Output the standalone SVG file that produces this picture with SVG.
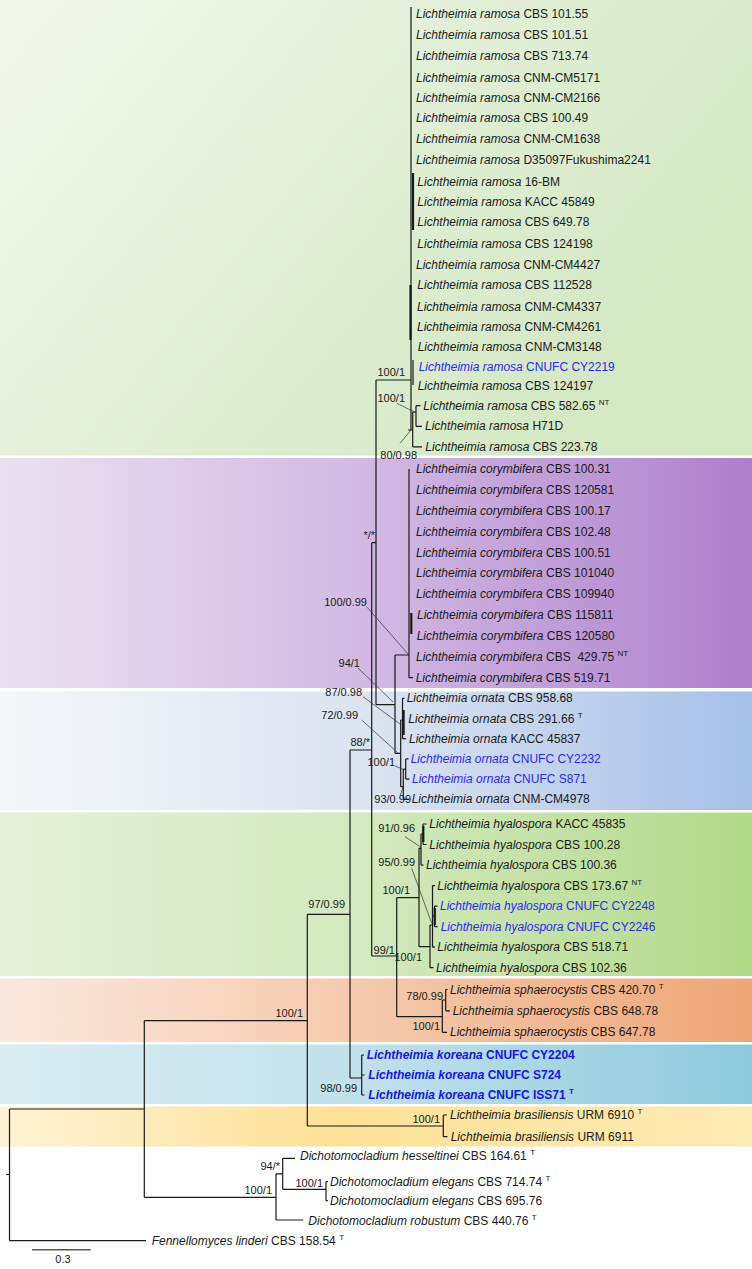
<svg xmlns="http://www.w3.org/2000/svg" width="752" height="1269" viewBox="0 0 752 1269">
<defs>
<linearGradient id="gRam" x1="0" y1="0" x2="1" y2="0.5"><stop offset="0" stop-color="#f2f7ec"/><stop offset="1" stop-color="#d3e8c3"/></linearGradient>
<linearGradient id="gCor" x1="0" y1="0" x2="1" y2="0"><stop offset="0" stop-color="#ebe1f1"/><stop offset="0.5" stop-color="#d1b8e2"/><stop offset="1" stop-color="#ad7fcd"/></linearGradient>
<linearGradient id="gOrn" x1="0" y1="0" x2="1" y2="0"><stop offset="0" stop-color="#f5f7fa"/><stop offset="0.5" stop-color="#dbe3f1"/><stop offset="1" stop-color="#a6c0e8"/></linearGradient>
<linearGradient id="gHya" x1="0" y1="0" x2="1" y2="0"><stop offset="0" stop-color="#e5f1da"/><stop offset="0.5" stop-color="#d2e8bd"/><stop offset="1" stop-color="#b2da8a"/></linearGradient>
<linearGradient id="gSph" x1="0" y1="0" x2="1" y2="0"><stop offset="0" stop-color="#fae8de"/><stop offset="0.5" stop-color="#f5c8ab"/><stop offset="1" stop-color="#eea677"/></linearGradient>
<linearGradient id="gKor" x1="0" y1="0" x2="1" y2="0"><stop offset="0" stop-color="#dbedf3"/><stop offset="0.5" stop-color="#bfe0eb"/><stop offset="1" stop-color="#8ccadc"/></linearGradient>
<linearGradient id="gBra" x1="0" y1="0" x2="1" y2="0"><stop offset="0" stop-color="#fef2d3"/><stop offset="0.45" stop-color="#fde196"/><stop offset="1" stop-color="#feebb4"/></linearGradient>
</defs>
<style>
.t{font-family:"Liberation Sans",Arial,sans-serif;font-size:12px;fill:#1a1a1a}
.i{font-style:italic}
.blue{fill:#2a2aee}
.kb{fill:#1616dc;font-weight:bold}
.s{font-family:"Liberation Sans",Arial,sans-serif;font-size:11px;fill:#1a1a1a;text-anchor:end}
.sup{font-size:8px}
.e{stroke:#1a1a1a;stroke-width:1.2;fill:none}
.th{stroke:#1a1a1a;stroke-width:2.2;fill:none}
.l{stroke:#333;stroke-width:0.7;fill:none}
</style>
<g id="bands">
<rect x="0" y="0" width="752" height="455.5" fill="url(#gRam)"/>
<rect x="0" y="458" width="752" height="230" fill="url(#gCor)"/>
<rect x="0" y="691.5" width="752" height="118.5" fill="url(#gOrn)"/>
<rect x="0" y="812.5" width="752" height="163.5" fill="url(#gHya)"/>
<rect x="0" y="978.5" width="752" height="63.5" fill="url(#gSph)"/>
<rect x="0" y="1044.5" width="752" height="59.5" fill="url(#gKor)"/>
<rect x="0" y="1106.5" width="752" height="40" fill="url(#gBra)"/>
</g>
<g id="connectors">
<path class="e" d="M6 1174.5H9.5M9.5 1109V1240.7M9.5 1109H144.3M9.5 1240.7H146"/>
<path class="e" d="M144.3 1020.7V1197.3M144.3 1020.7H307.3M144.3 1197.3H276"/>
<path class="e" d="M276 1173.8V1220M276 1173.8H282.7M276 1220H303.3M282.7 1158.3V1189.3M282.7 1158.3H295M282.7 1189.3H326M326 1181.7V1200.7M326 1181.7H328M326 1200.7H328"/>
<path class="e" d="M307.3 914.3V1126M307.3 914.3H350M307.3 1126H443.3M443.3 1115V1136.7M443.3 1115H447M443.3 1136.7H447.5"/>
<path class="e" d="M350 750V1078M350 750H371.7M350 1078H361.7M361.7 1055V1095M361.7 1055H364M361.7 1075H364.5M361.7 1095H364.5"/>
<path class="e" d="M371.7 542.7V956M371.7 542.7H376M371.7 956H396.7"/>
<path class="e" d="M396.7 897.7V1016.7M396.7 897.7H419M396.7 1016.7H442.3M442.3 1000V1032.3M442.3 1032.3H447M442.3 1000H445.7M445.7 989.5V1010.8M445.7 989.5H447.5M445.7 1010.8H450"/>
<path class="e" d="M419 848.3V946.7M419 848.3H421M419 946.7H430M421 834V865.1M421 865.1H423.5M421 834H423M423 824V844.5M423 824H426.5M423 844.5H426.5"/>
<path class="th" d="M423.3 826V842"/>
<path class="e" d="M430 925V967.7M430 967.7H433.5M430 925H432.5M432.5 885.6V947.2M432.5 885.6H435M432.5 947.2H435M432.5 916H434.5M434.5 906.1V926.7M434.5 906.1H437.5M434.5 926.7H437.5"/>
<path class="th" d="M434.8 908V925"/>
<path class="e" d="M376 380V704.7M376 380H411M376 704.7H395M395 655V753.3M395 655H409M395 753.3H400.7"/>
<path class="e" d="M409 469V677.7M409 677.7H413"/>
<path class="th" d="M411.3 613V634"/>
<path class="e" d="M400.7 720V786.7M400.7 720H402.5M400.7 786.7H403.3M402.5 698.3V738.7M402.5 698.3H404.5M402.5 738.7H406M403.3 769V799.3M403.3 769H405.7M403.3 799.3H409M405.7 758.9V779.1M405.7 758.9H408.5M405.7 779.1H409.5"/>
<path class="th" d="M403.6 710V735"/>
<path class="e" d="M411 7V430M408 430H412.7M412.7 412V446.9M412.7 446.9H422M412.7 412H416M416 405.7V426.3M416 405.7H420.5M416 426.3H422"/>
<path class="th" d="M413 173V230M410.5 285V340"/>
<path class="e" d="M413 360V385"/>
<path class="l" d="M396.7 403.3L416 412.7M400 443.3L411 430M366.7 606.7L408.3 654.3M358 668L393 702M363 696.7L400 724M361.7 720L398.3 753.3M395 766L405 770M400 796L403.3 786.7M405 836.7L421 847.3M411.7 868.3L431.7 923.3"/>
<path stroke="#555" stroke-width="1.6" d="M32 1249.7H90.7"/>
</g>
<g id="support">
<text class="s" x="405" y="376">100/1</text>
<text class="s" x="405" y="402">100/1</text>
<text class="s" x="417" y="459">80/0.98</text>
<text class="s" x="375" y="539">*/*</text>
<text class="s" x="367" y="606">100/0.99</text>
<text class="s" x="360" y="667">94/1</text>
<text class="s" x="362" y="695.5">87/0.98</text>
<text class="s" x="358" y="719">72/0.99</text>
<text class="s" x="370" y="745.5">88/*</text>
<text class="s" x="395" y="765.5">100/1</text>
<text class="s" x="411" y="803">93/0.99</text>
<text class="s" x="415" y="832">91/0.96</text>
<text class="s" x="415" y="866">95/0.99</text>
<text class="s" x="410" y="894">100/1</text>
<text class="s" x="345" y="908">97/0.99</text>
<text class="s" x="395" y="954">99/1</text>
<text class="s" x="422" y="960.5">100/1</text>
<text class="s" x="443" y="999.5">78/0.99</text>
<text class="s" x="303" y="1016.5">100/1</text>
<text class="s" x="440" y="1029.5">100/1</text>
<text class="s" x="357" y="1092">98/0.99</text>
<text class="s" x="440" y="1123">100/1</text>
<text class="s" x="280" y="1170">94/*</text>
<text class="s" x="272" y="1194">100/1</text>
<text class="s" x="323" y="1186.5">100/1</text>
<text class="s" x="63" y="1263" style="text-anchor:middle">0.3</text>
</g>
<g id="ramosa">
<g id="r1"><text class="t" x="416" y="18.3"><tspan class="i">Lichtheimia ramosa</tspan> CBS 101.55</text></g>
<g id="r2"><text class="t" x="416" y="39"><tspan class="i">Lichtheimia ramosa</tspan> CBS 101.51</text></g>
<g id="r3"><text class="t" x="416" y="60"><tspan class="i">Lichtheimia ramosa</tspan> CBS 713.74</text></g>
<g id="r4"><text class="t" x="416" y="81.7"><tspan class="i">Lichtheimia ramosa</tspan> CNM-CM5171</text></g>
<g id="r5"><text class="t" x="416" y="102.3"><tspan class="i">Lichtheimia ramosa</tspan> CNM-CM2166</text></g>
<g id="r6"><text class="t" x="416" y="122.3"><tspan class="i">Lichtheimia ramosa</tspan> CBS 100.49</text></g>
<g id="r7"><text class="t" x="416" y="143.3"><tspan class="i">Lichtheimia ramosa</tspan> CNM-CM1638</text></g>
<g id="r8"><text class="t" x="416" y="164"><tspan class="i">Lichtheimia ramosa</tspan> D35097Fukushima2241</text></g>
<g id="r9"><text class="t" x="417.3" y="185.7"><tspan class="i">Lichtheimia ramosa</tspan> 16-BM</text></g>
<g id="r10"><text class="t" x="417.3" y="205.7"><tspan class="i">Lichtheimia ramosa</tspan> KACC 45849</text></g>
<g id="r11"><text class="t" x="417.3" y="226"><tspan class="i">Lichtheimia ramosa</tspan> CBS 649.78</text></g>
<g id="r12"><text class="t" x="417.3" y="248"><tspan class="i">Lichtheimia ramosa</tspan> CBS 124198</text></g>
<g id="r13"><text class="t" x="416" y="268.7"><tspan class="i">Lichtheimia ramosa</tspan> CNM-CM4427</text></g>
<g id="r14"><text class="t" x="417.3" y="289"><tspan class="i">Lichtheimia ramosa</tspan> CBS 112528</text></g>
<g id="r15"><text class="t" x="417" y="311"><tspan class="i">Lichtheimia ramosa</tspan> CNM-CM4337</text></g>
<g id="r16"><text class="t" x="417" y="330.7"><tspan class="i">Lichtheimia ramosa</tspan> CNM-CM4261</text></g>
<g id="r17"><text class="t" x="417.7" y="350.7"><tspan class="i">Lichtheimia ramosa</tspan> CNM-CM3148</text></g>
<g id="r18"><text class="t blue" x="418.7" y="370.7"><tspan class="i">Lichtheimia ramosa</tspan> CNUFC CY2219</text></g>
<g id="r19"><text class="t" x="417.7" y="389.7"><tspan class="i">Lichtheimia ramosa</tspan> CBS 124197</text></g>
<g id="r20"><text class="t" x="423.3" y="409.7"><tspan class="i">Lichtheimia ramosa</tspan> CBS 582.65 <tspan class="sup" dy="-5">NT</tspan></text></g>
<g id="r21"><text class="t" x="425" y="430.3"><tspan class="i">Lichtheimia ramosa</tspan> H71D</text></g>
<g id="r22"><text class="t" x="425.3" y="450.9"><tspan class="i">Lichtheimia ramosa</tspan> CBS 223.78</text></g>
</g>
<g id="corymbifera">
<g id="c1"><text class="t" x="416" y="473"><tspan class="i">Lichtheimia corymbifera</tspan> CBS 100.31</text></g>
<g id="c2"><text class="t" x="416" y="493.9"><tspan class="i">Lichtheimia corymbifera</tspan> CBS 120581</text></g>
<g id="c3"><text class="t" x="416" y="514.7"><tspan class="i">Lichtheimia corymbifera</tspan> CBS 100.17</text></g>
<g id="c4"><text class="t" x="416" y="535.6"><tspan class="i">Lichtheimia corymbifera</tspan> CBS 102.48</text></g>
<g id="c5"><text class="t" x="416" y="556.5"><tspan class="i">Lichtheimia corymbifera</tspan> CBS 100.51</text></g>
<g id="c6"><text class="t" x="416" y="577.4"><tspan class="i">Lichtheimia corymbifera</tspan> CBS 101040</text></g>
<g id="c7"><text class="t" x="416" y="598.2"><tspan class="i">Lichtheimia corymbifera</tspan> CBS 109940</text></g>
<g id="c8"><text class="t" x="417" y="619.1"><tspan class="i">Lichtheimia corymbifera</tspan> CBS 115811</text></g>
<g id="c9"><text class="t" x="416.7" y="640"><tspan class="i">Lichtheimia corymbifera</tspan> CBS 120580</text></g>
<g id="c10"><text class="t" x="416" y="660.8" xml:space="preserve"><tspan class="i">Lichtheimia corymbifera</tspan> CBS  429.75 <tspan class="sup" dy="-5">NT</tspan></text></g>
<g id="c11"><text class="t" x="415.7" y="681.7"><tspan class="i">Lichtheimia corymbifera</tspan> CBS 519.71</text></g>
</g>
<g id="ornata">
<g id="o1"><text class="t" x="406.7" y="702.3"><tspan class="i">Lichtheimia ornata</tspan> CBS 958.68</text></g>
<g id="o2"><text class="t" x="408.3" y="722.5"><tspan class="i">Lichtheimia ornata</tspan> CBS 291.66 <tspan class="sup" dy="-5">T</tspan></text></g>
<g id="o3"><text class="t" x="409" y="742.7"><tspan class="i">Lichtheimia ornata</tspan> KACC 45837</text></g>
<g id="o4"><text class="t blue" x="410.7" y="762.9"><tspan class="i">Lichtheimia ornata</tspan> CNUFC CY2232</text></g>
<g id="o5"><text class="t blue" x="412" y="783.1"><tspan class="i">Lichtheimia ornata</tspan> CNUFC S871</text></g>
<g id="o6"><text class="t" x="411.7" y="803.3"><tspan class="i">Lichtheimia ornata</tspan> CNM-CM4978</text></g>
</g>
<g id="hyalospora">
<g id="h1"><text class="t" x="429.3" y="828"><tspan class="i">Lichtheimia hyalospora</tspan> KACC 45835</text></g>
<g id="h2"><text class="t" x="429.3" y="848.5"><tspan class="i">Lichtheimia hyalospora</tspan> CBS 100.28</text></g>
<g id="h3"><text class="t" x="426" y="869.1"><tspan class="i">Lichtheimia hyalospora</tspan> CBS 100.36</text></g>
<g id="h4"><text class="t" x="437.3" y="889.6"><tspan class="i">Lichtheimia hyalospora</tspan> CBS 173.67 <tspan class="sup" dy="-5">NT</tspan></text></g>
<g id="h5"><text class="t blue" x="440" y="910.1"><tspan class="i">Lichtheimia hyalospora</tspan> CNUFC CY2248</text></g>
<g id="h6"><text class="t blue" x="440.7" y="930.7"><tspan class="i">Lichtheimia hyalospora</tspan> CNUFC CY2246</text></g>
<g id="h7"><text class="t" x="437.3" y="951.2"><tspan class="i">Lichtheimia hyalospora</tspan> CBS 518.71</text></g>
<g id="h8"><text class="t" x="436" y="971.7"><tspan class="i">Lichtheimia hyalospora</tspan> CBS 102.36</text></g>
</g>
<g id="sphaerocystis">
<g id="s1"><text class="t" x="450" y="993.5"><tspan class="i">Lichtheimia sphaerocystis</tspan> CBS 420.70 <tspan class="sup" dy="-5">T</tspan></text></g>
<g id="s2"><text class="t" x="452.7" y="1014.8"><tspan class="i">Lichtheimia sphaerocystis</tspan> CBS 648.78</text></g>
<g id="s3"><text class="t" x="450" y="1036"><tspan class="i">Lichtheimia sphaerocystis</tspan> CBS 647.78</text></g>
</g>
<g id="koreana">
<g id="k1"><text class="t kb" x="366.7" y="1059"><tspan class="i">Lichtheimia koreana</tspan> CNUFC CY2204</text></g>
<g id="k2"><text class="t kb" x="368.3" y="1079"><tspan class="i">Lichtheimia koreana</tspan> CNUFC S724</text></g>
<g id="k3"><text class="t kb" x="368.3" y="1099"><tspan class="i">Lichtheimia koreana</tspan> CNUFC ISS71 <tspan class="sup" dy="-5">T</tspan></text></g>
</g>
<g id="brasiliensis">
<g id="b1"><text class="t" x="450" y="1119"><tspan class="i">Lichtheimia brasiliensis</tspan> URM 6910 <tspan class="sup" dy="-5">T</tspan></text></g>
<g id="b2"><text class="t" x="450.7" y="1140.7"><tspan class="i">Lichtheimia brasiliensis</tspan> URM 6911</text></g>
</g>
<g id="outgroups">
<g id="d1"><text class="t" x="300" y="1160"><tspan class="i">Dichotomocladium hesseltinei</tspan> CBS 164.61 <tspan class="sup" dy="-5">T</tspan></text></g>
<g id="d2"><text class="t" x="330" y="1185.7"><tspan class="i">Dichotomocladium elegans</tspan> CBS 714.74 <tspan class="sup" dy="-5">T</tspan></text></g>
<g id="d3"><text class="t" x="330" y="1204.7"><tspan class="i">Dichotomocladium elegans</tspan> CBS 695.76</text></g>
<g id="d4"><text class="t" x="308.3" y="1225"><tspan class="i">Dichotomocladium robustum</tspan> CBS 440.76 <tspan class="sup" dy="-5">T</tspan></text></g>
<g id="f1"><text class="t" x="151.7" y="1244.7"><tspan class="i">Fennellomyces linderi</tspan> CBS 158.54 <tspan class="sup" dy="-5">T</tspan></text></g>
</g>
</svg>
